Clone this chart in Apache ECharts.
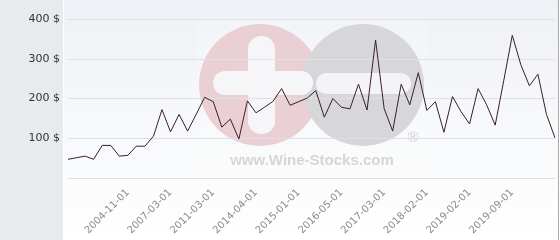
<!DOCTYPE html>
<html>
<head>
<meta charset="utf-8">
<script src="https://cdn.jsdelivr.net/npm/echarts@6/dist/echarts.min.js"></script>
<style>
html,body{margin:0;padding:0;background:#fff;}
#chart{width:560px;height:240px;}
</style>
</head>
<body>
<div id="chart"></div>
<script>
// ---- data ----
const tickIndices = [7, 12, 17, 22, 27, 32, 37, 42, 47, 52];
const tickLabels = ['2004-11-01', '2007-03-01', '2011-03-01', '2014-04-01', '2015-01-01',
                    '2016-05-01', '2017-03-01', '2018-02-01', '2019-02-01', '2019-09-01'];
const prices = [47, 51, 55, 47, 82, 82, 55, 57, 80, 80,
                105, 172, 116, 160, 118, 160, 203, 192, 128, 148,
                98, 194, 164, 178, 193, 225, 183, 192, 201, 220,
                153, 200, 178, 174, 236, 171, 347, 175, 118, 236,
                184, 265, 170, 192, 115, 205, 167, 136, 225, 184,
                133, 245, 359, 285, 232, 261, 160, 101];
const yTicks = [0, 100, 200, 300, 400];

const categories = prices.map((v, i) => {
  const k = tickIndices.indexOf(i);
  return k >= 0 ? tickLabels[k] : '';
});

const chart = echarts.init(document.getElementById('chart'), null, {renderer: 'canvas'});
const FONT = 'DejaVu Sans';

chart.setOption({
  animation: false,
  backgroundColor: '#ffffff',
  grid: {left: 68, right: 5, top: 19, bottom: 62, containLabel: false},
  xAxis: {
    type: 'category',
    data: categories,
    boundaryGap: false,
    axisLine: {show: false},
    axisTick: {show: false},
    splitLine: {show: false},
    axisLabel: {
      rotate: 45,
      interval: (idx) => tickIndices.indexOf(idx) >= 0,
      margin: 13,
      color: '#8a8a8a',
      fontFamily: FONT,
      fontSize: 10
    }
  },
  yAxis: {
    type: 'value',
    min: yTicks[0],
    max: yTicks[yTicks.length - 1],
    interval: 100,
    axisLine: {show: false},
    axisTick: {show: false},
    splitLine: {show: true, lineStyle: {color: '#dfe0e5', width: 1}},
    axisLabel: {
      margin: 8,
      color: '#333333',
      fontFamily: FONT,
      fontSize: 11,
      formatter: (v) => v === 0 ? '' : v + ' $'
    }
  },
  graphic: [
    {type: 'rect', z: -20, silent: true, shape: {x: 0, y: 0, width: 63, height: 240},
     style: {fill: '#e7ebee'}},
    {type: 'rect', z: -20, silent: true, shape: {x: 64, y: 0, width: 494, height: 240},
     style: {fill: new echarts.graphic.LinearGradient(0, 0, 0, 1, [
       {offset: 0, color: '#eef1f5'}, {offset: 1, color: '#ffffff'}])}},
    {type: 'rect', z: -20, silent: true, shape: {x: 558, y: 0, width: 1, height: 240},
     style: {fill: '#a8a8a8'}},
    // watermark
    {type: 'rect', z: -15, silent: true, shape: {x: 197, y: 18, width: 230, height: 156},
     style: {fill: 'rgba(255,255,255,0.18)'}},
    {type: 'circle', z: -12, silent: true, shape: {cx: 260, cy: 85, r: 61},
     style: {fill: '#eacfd5'}},
    {type: 'circle', z: -12, silent: true, shape: {cx: 363, cy: 85, r: 61},
     style: {fill: '#d7d7da'}},
    {type: 'rect', z: -11, silent: true, shape: {x: 248, y: 36, width: 27, height: 98, r: 13},
     style: {fill: '#f6f6f9'}},
    {type: 'rect', z: -11, silent: true, shape: {x: 213, y: 71, width: 100, height: 24, r: 12},
     style: {fill: '#f6f6f9'}},
    {type: 'rect', z: -11, silent: true, shape: {x: 316, y: 73, width: 95, height: 21, r: 10},
     style: {fill: '#f4f4f7'}},
    {type: 'text', z: -11, silent: true, style: {
      x: 312, y: 161, text: 'www.Wine-Stocks.com', align: 'center', verticalAlign: 'middle',
      fill: '#d6d6d8', font: 'bold 15px "Liberation Sans", Arial, sans-serif'}},
    {type: 'text', z: -11, silent: true, style: {
      x: 413, y: 138, text: '®', align: 'center', verticalAlign: 'middle',
      fill: '#d0d0d3', font: '15px "Liberation Sans", Arial, sans-serif'}}
  ],
  series: [{
    type: 'line',
    data: prices,
    showSymbol: false,
    symbol: 'none',
    lineStyle: {color: '#3b1e2a', width: 1},
    z: 5
  }]
});
</script>
</body>
</html>
